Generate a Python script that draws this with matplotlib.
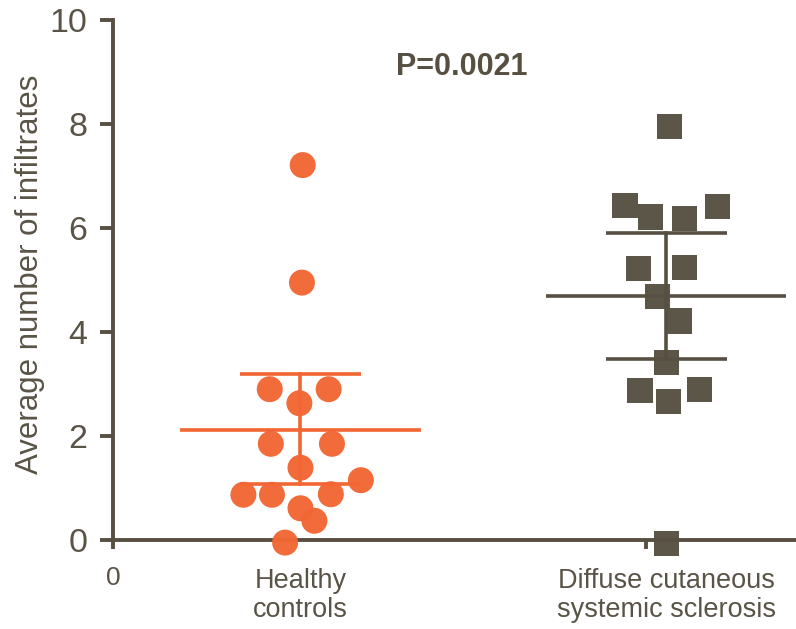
import matplotlib.pyplot as plt

# values
groups = ['Healthy\ncontrols', 'Diffuse cutaneous\nsystemic sclerosis']
group_pos = [1.0, 2.0]

healthy = [7.21, 4.95, 2.90, 2.90, 2.63, 1.85, 1.85, 1.39, 1.15, 0.87, 0.87, 0.88, 0.61, 0.37, -0.05]
healthy_dx = [0.006, 0.004, -0.084, 0.077, -0.003, -0.081, 0.086, 0.0, 0.165, -0.156, -0.078, 0.083, 0.0, 0.038, -0.042]

dcssc = [7.95, 6.44, 6.21, 6.19, 6.42, 5.22, 5.24, 4.69, 4.21, 3.42, 2.88, 2.67, 2.90, -0.07]
dcssc_dx = [0.008, -0.113, -0.044, 0.049, 0.139, -0.077, 0.049, -0.025, 0.034, 0.0, -0.072, 0.005, 0.090, 0.0]

means = [2.12, 4.70]
upper = [3.19, 5.90]
lower = [1.07, 3.48]

p_text = 'P=0.0021'

orange = '#F26633'
dark = '#575042'
txt = '#5a5446'

plt.rcParams['font.family'] = ['Liberation Sans', 'DejaVu Sans']

fig = plt.figure(figsize=(7.96, 6.29), dpi=100)
ax = fig.add_axes([113 / 796, 89 / 629, 683 / 796, 520 / 629])

colors = [orange, dark]
for i, (vals, dx, m) in enumerate([(healthy, healthy_dx, 'o'), (dcssc, dcssc_dx, 's')]):
    x0 = group_pos[i]
    c = colors[i]
    # mean line and SD bars
    ax.plot([x0 - 0.328, x0 + 0.328], [means[i], means[i]], color=c, lw=2.6, zorder=2, solid_capstyle='butt')
    ax.plot([x0, x0], [lower[i], upper[i]], color=c, lw=2.6, zorder=2)
    for yv in (lower[i], upper[i]):
        ax.plot([x0 - 0.165, x0 + 0.165], [yv, yv], color=c, lw=2.6, zorder=2, solid_capstyle='butt')
    xs = [x0 + d for d in dx]
    ax.scatter(xs, vals, marker=m, s=350 if m == 'o' else 330, color=c, edgecolors='none',
               alpha=0.97, zorder=3, clip_on=False)

ax.set_xlim(0.4877, 2.354)
ax.set_ylim(0, 10)

for s in ['top', 'right']:
    ax.spines[s].set_visible(False)
for s in ['left', 'bottom']:
    ax.spines[s].set_color(dark)
    ax.spines[s].set_linewidth(2.8)

ax.set_yticks([0, 2, 4, 6, 8, 10])
ax.tick_params(axis='y', direction='out', length=9.5, width=2.8, color=dark,
               labelsize=24.5, labelcolor=txt, pad=9)
ax.set_xticks([0.4877, 1.944], ['0', ''])
ax.tick_params(axis='x', which='major', direction='out', length=6.5, width=2.8, color=dark,
               labelsize=19, labelcolor=txt, pad=12)
ax.set_xticks(group_pos, groups, minor=True)
ax.tick_params(axis='x', which='minor', length=0, labelsize=19.5, labelcolor=txt, pad=20)
for lbl in ax.get_xticklabels(minor=True):
    lbl.set_linespacing(1.15)

ax.set_ylabel('Average number of infiltrates', fontsize=22.5, color=txt)
ax.yaxis.set_label_coords(-0.1, 0.51)

ax.text(1.441, 9.10, p_text, fontsize=22, fontweight='bold', color=dark,
        ha='center', va='center')

fig.savefig('out.png', dpi=100)
